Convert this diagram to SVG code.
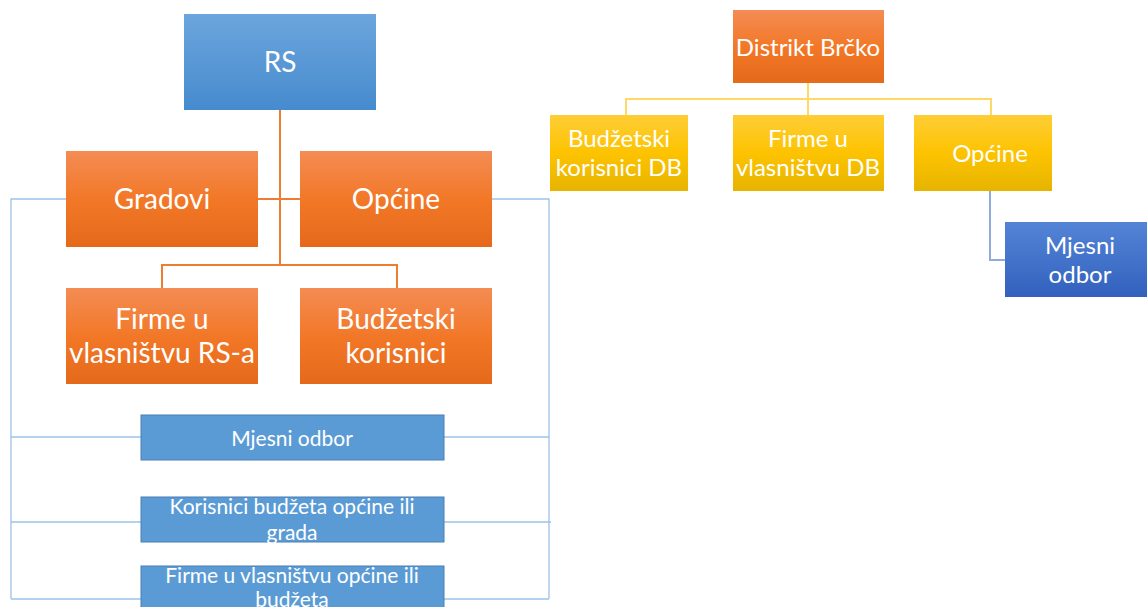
<svg xmlns="http://www.w3.org/2000/svg" width="1147" height="607" viewBox="0 0 1147 607">
<defs>
<linearGradient id="gO" x1="0" y1="0" x2="0" y2="1"><stop offset="0" stop-color="#F48C54"/><stop offset="0.5" stop-color="#F27828"/><stop offset="1" stop-color="#E5691A"/></linearGradient>
<linearGradient id="gB" x1="0" y1="0" x2="0" y2="1"><stop offset="0" stop-color="#6CA5DD"/><stop offset="1" stop-color="#468BCE"/></linearGradient>
<linearGradient id="gY" x1="0" y1="0" x2="0" y2="1"><stop offset="0" stop-color="#FFCD36"/><stop offset="0.5" stop-color="#FDC300"/><stop offset="1" stop-color="#E6B400"/></linearGradient>
<linearGradient id="gD" x1="0" y1="0" x2="0" y2="1"><stop offset="0" stop-color="#5484D6"/><stop offset="1" stop-color="#3261BE"/></linearGradient>
</defs>
<style>
text{font-family:Lato,"Open Sans",sans-serif;fill:#fff;text-anchor:middle;dominant-baseline:central}
.o{fill:url(#gO)}
.b{fill:url(#gB)}
.y{fill:url(#gY)}
.d{fill:url(#gD)}
.f{fill:#5B9BD5;stroke:#4A7FB5;stroke-width:1}
.co{stroke:#ED7D31;stroke-width:2;fill:none}
.cb{stroke:#9DC3E6;stroke-width:1.3;fill:none}
.cy{stroke:#FFD966;stroke-width:2;fill:none}
.cd{stroke:#8FAADC;stroke-width:2;fill:none}
.l{font-size:28px}
.m{font-size:24px}
.s{font-size:21px}
</style>
<g id="connectors">
<path class="co" d="M280 110V265M258 199H300M162 288V265H397V288"/>
<path class="cb" d="M66 199H11V599M11 437H141M11 522H141M11 599H141"/>
<path class="cb" d="M492 199H549V599M444 437H549M444 522H551M444 599H549"/>
<path class="cy" d="M808 83V99M626 115V99H991V115M808 99V115"/>
<path class="cd" d="M990 191V260H1005"/>
</g>
<g id="rs"><rect class="b" x="184" y="14" width="192" height="96"/><text class="l" x="280" y="61">RS</text></g>
<g id="gradovi"><rect class="o" x="66" y="151" width="192" height="96"/><text class="l" x="162" y="198">Gradovi</text></g>
<g id="opcine"><rect class="o" x="300" y="151" width="192" height="96"/><text class="l" x="396" y="198">Općine</text></g>
<g id="firme-rs"><rect class="o" x="66" y="288" width="192" height="96"/><text class="l" x="162" y="318">Firme u</text><text class="l" x="162" y="352">vlasništvu RS-a</text></g>
<g id="budzetski"><rect class="o" x="300" y="288" width="192" height="96"/><text class="l" x="396" y="318">Budžetski</text><text class="l" x="396" y="352">korisnici</text></g>
<g id="mjesni-odbor"><rect class="f" x="141" y="415" width="303" height="45"/><text class="s" x="292" y="437">Mjesni odbor</text></g>
<g id="korisnici"><rect class="f" x="141" y="497" width="303" height="45"/><text class="s" x="292" y="505">Korisnici budžeta općine ili</text><text class="s" x="292" y="531">grada</text></g>
<g id="firme-opcine"><rect class="f" x="141" y="566" width="303" height="45"/><text class="s" x="292" y="574">Firme u vlasništvu općine ili</text><text class="s" x="292" y="598">budžeta</text></g>
<g id="distrikt"><rect class="o" x="733" y="10" width="151" height="73"/><text class="m" x="808" y="46">Distrikt Brčko</text></g>
<g id="budzetski-db"><rect class="y" x="550" y="115" width="138" height="76"/><text class="m" x="619" y="137">Budžetski</text><text class="m" x="619" y="166">korisnici DB</text></g>
<g id="firme-db"><rect class="y" x="733" y="115" width="151" height="76"/><text class="m" x="808" y="137">Firme u</text><text class="m" x="808" y="166">vlasništvu DB</text></g>
<g id="opcine-db"><rect class="y" x="914" y="115" width="138" height="76"/><text class="m" x="990" y="152">Općine</text></g>
<g id="mjesni-db"><rect class="d" x="1005" y="222" width="142" height="75"/><text class="m" x="1080" y="244">Mjesni</text><text class="m" x="1080" y="273">odbor</text></g>
</svg>
